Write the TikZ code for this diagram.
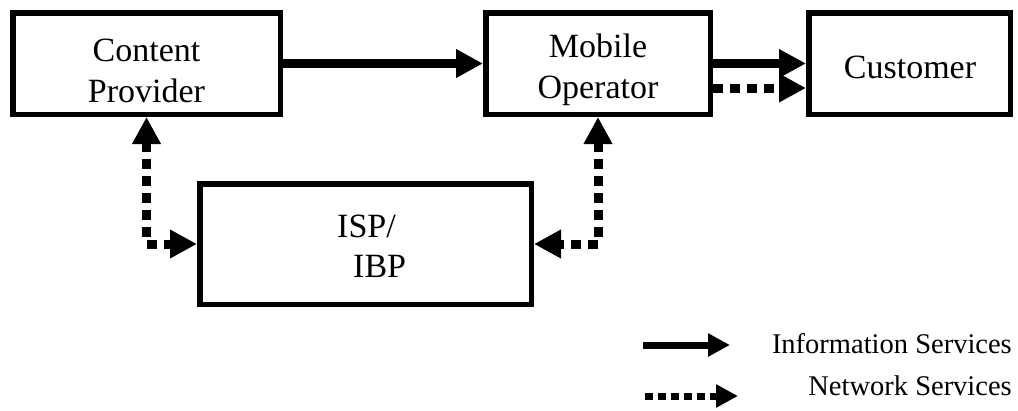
\documentclass[tikz,border=0pt]{standalone}
\usepackage{fontspec}
\setmainfont{Liberation Serif}
\usetikzlibrary{arrows.meta}

\tikzset{
  bigtip/.tip={Triangle[length=27pt,width=27pt]},
  legtip/.tip={Triangle[length=22pt,width=22pt]},
  box/.style={draw, line width=5.5pt, rectangle, inner sep=0pt, minimum height=101.5pt},
  boxtext/.style={inner sep=0pt, align=center, font=\fontsize{34}{41}\selectfont},
  info/.style={line width=9pt, -bigtip},
  net/.style={line width=9pt, dash pattern=on 10pt off 7pt},
  legline/.style={line width=7pt},
  legtext/.style={inner sep=0pt, font=\fontsize{28.5}{34}\selectfont},
}

\begin{document}
\begin{tikzpicture}[x=1pt, y=-1pt]
  \useasboundingbox (0,0) rectangle (1018,410);

  % boxes
  \node[box, minimum width=267.5pt] (cp) at (146.5,63.5) {};
  \node[boxtext] (cpt) at (146.5,71) {Content\\Provider};
  \node[box, minimum width=224.5pt] (mo) at (598,63.5) {};
  \node[boxtext] (mot) at (598,70) {Mobile\\Operator};
  \node[box, minimum width=201.5pt] (cu) at (909.5,63.5) {};
  \node[boxtext, anchor=base] (cut) at (910,78.3) {Customer};
  \node[box, minimum width=331.5pt, minimum height=120.5pt] (isp) at (365.5,244) {};
  \node[boxtext, align=left, anchor=west, font=\fontsize{34}{40}\selectfont] (ispt) at (337,246.5) {ISP/\\\hspace*{16pt}IBP};

  % information services
  \draw[info] (cp.east) -- (mo.west);
  \draw[info] (mo.east) -- (cu.west);

  % network services
  \draw[net, -bigtip] ([yshift=-24.5pt]mo.east) -- ([yshift=-24.5pt]cu.west);
  \draw[net, bigtip-bigtip] (cp.south) |- (isp.west);
  \draw[net, bigtip-bigtip] (mo.south) |- (isp.east);

  % legend
  \coordinate (infoA) at (643,345);
  \coordinate (infoB) at (730,345);
  \coordinate (netA) at (645,396);
  \coordinate (netB) at (738,396);
  \draw[legline, -legtip] (infoA) -- (infoB);
  \draw[legline, dash pattern=on 8pt off 5pt, -legtip] (netA) -- (netB);
  \node[legtext, anchor=base east] (infol) at (1012,353.3) {Information Services};
  \node[legtext, anchor=base east] (netl) at (1012,395) {Network Services};
\end{tikzpicture}
\end{document}
